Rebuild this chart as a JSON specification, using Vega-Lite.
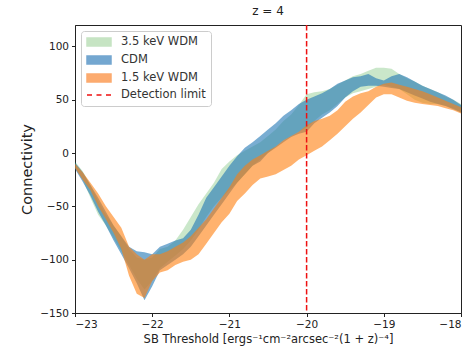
{
  "$schema": "https://vega.github.io/schema/vega-lite/v6.json",
  "width": 386,
  "height": 288,
  "autosize": "none",
  "padding": {"left": 75, "top": 25, "right": 12, "bottom": 36},
  "background": "white",
  "config": {
    "font": "DejaVu Sans",
    "view": {"stroke": "#222222", "strokeWidth": 1},
    "axis": {"grid": false, "domainColor": "#222222", "tickColor": "#222222", "labelColor": "#222222", "titleColor": "#222222", "labelFontSize": 10.5, "tickSize": 3.5, "labelPadding": 3, "titleFontWeight": "normal"}
  },
  "title": {"text": "z = 4", "fontSize": 12, "fontWeight": "normal", "color": "#222222", "offset": 6},
  "datasets": {
    "bands": [
      {"s": "3.5 keV WDM", "x": -23.0, "lo": -14, "hi": -8},
      {"s": "3.5 keV WDM", "x": -22.9, "lo": -25, "hi": -17},
      {"s": "3.5 keV WDM", "x": -22.8, "lo": -42, "hi": -30},
      {"s": "3.5 keV WDM", "x": -22.7, "lo": -58, "hi": -45},
      {"s": "3.5 keV WDM", "x": -22.6, "lo": -68, "hi": -58},
      {"s": "3.5 keV WDM", "x": -22.5, "lo": -80, "hi": -68},
      {"s": "3.5 keV WDM", "x": -22.4, "lo": -92, "hi": -78},
      {"s": "3.5 keV WDM", "x": -22.3, "lo": -105, "hi": -90},
      {"s": "3.5 keV WDM", "x": -22.2, "lo": -118, "hi": -98},
      {"s": "3.5 keV WDM", "x": -22.1, "lo": -128, "hi": -100},
      {"s": "3.5 keV WDM", "x": -22.0, "lo": -120, "hi": -98},
      {"s": "3.5 keV WDM", "x": -21.9, "lo": -108, "hi": -90},
      {"s": "3.5 keV WDM", "x": -21.8, "lo": -102, "hi": -88},
      {"s": "3.5 keV WDM", "x": -21.7, "lo": -96, "hi": -82},
      {"s": "3.5 keV WDM", "x": -21.6, "lo": -90, "hi": -72},
      {"s": "3.5 keV WDM", "x": -21.5, "lo": -82, "hi": -60},
      {"s": "3.5 keV WDM", "x": -21.4, "lo": -72, "hi": -48},
      {"s": "3.5 keV WDM", "x": -21.3, "lo": -60, "hi": -38},
      {"s": "3.5 keV WDM", "x": -21.2, "lo": -50, "hi": -28},
      {"s": "3.5 keV WDM", "x": -21.1, "lo": -42, "hi": -15},
      {"s": "3.5 keV WDM", "x": -21.0, "lo": -35, "hi": -8},
      {"s": "3.5 keV WDM", "x": -20.9, "lo": -28, "hi": -2},
      {"s": "3.5 keV WDM", "x": -20.8, "lo": -20, "hi": 2},
      {"s": "3.5 keV WDM", "x": -20.7, "lo": -12, "hi": 6},
      {"s": "3.5 keV WDM", "x": -20.6, "lo": -6, "hi": 10},
      {"s": "3.5 keV WDM", "x": -20.5, "lo": 0, "hi": 16},
      {"s": "3.5 keV WDM", "x": -20.4, "lo": 6, "hi": 22},
      {"s": "3.5 keV WDM", "x": -20.3, "lo": 12, "hi": 30},
      {"s": "3.5 keV WDM", "x": -20.2, "lo": 16, "hi": 36},
      {"s": "3.5 keV WDM", "x": -20.1, "lo": 20, "hi": 45},
      {"s": "3.5 keV WDM", "x": -20.0, "lo": 24, "hi": 55},
      {"s": "3.5 keV WDM", "x": -19.9, "lo": 30, "hi": 57},
      {"s": "3.5 keV WDM", "x": -19.8, "lo": 36, "hi": 58},
      {"s": "3.5 keV WDM", "x": -19.7, "lo": 40, "hi": 60},
      {"s": "3.5 keV WDM", "x": -19.6, "lo": 46, "hi": 64},
      {"s": "3.5 keV WDM", "x": -19.5, "lo": 52, "hi": 68},
      {"s": "3.5 keV WDM", "x": -19.4, "lo": 56, "hi": 72},
      {"s": "3.5 keV WDM", "x": -19.3, "lo": 58, "hi": 74},
      {"s": "3.5 keV WDM", "x": -19.2, "lo": 60, "hi": 77},
      {"s": "3.5 keV WDM", "x": -19.1, "lo": 62, "hi": 80},
      {"s": "3.5 keV WDM", "x": -19.0, "lo": 64, "hi": 80},
      {"s": "3.5 keV WDM", "x": -18.9, "lo": 62, "hi": 79},
      {"s": "3.5 keV WDM", "x": -18.8, "lo": 60, "hi": 74},
      {"s": "3.5 keV WDM", "x": -18.7, "lo": 55, "hi": 70},
      {"s": "3.5 keV WDM", "x": -18.6, "lo": 50, "hi": 67},
      {"s": "3.5 keV WDM", "x": -18.5, "lo": 47, "hi": 63},
      {"s": "3.5 keV WDM", "x": -18.4, "lo": 46, "hi": 60},
      {"s": "3.5 keV WDM", "x": -18.3, "lo": 46, "hi": 57},
      {"s": "3.5 keV WDM", "x": -18.2, "lo": 44, "hi": 53},
      {"s": "3.5 keV WDM", "x": -18.1, "lo": 42, "hi": 50},
      {"s": "3.5 keV WDM", "x": -18.0, "lo": 38, "hi": 46},
      {"s": "CDM", "x": -23.0, "lo": -15, "hi": -9},
      {"s": "CDM", "x": -22.9, "lo": -27, "hi": -18},
      {"s": "CDM", "x": -22.8, "lo": -40, "hi": -30},
      {"s": "CDM", "x": -22.7, "lo": -55, "hi": -42},
      {"s": "CDM", "x": -22.6, "lo": -68, "hi": -55},
      {"s": "CDM", "x": -22.5, "lo": -82, "hi": -68},
      {"s": "CDM", "x": -22.4, "lo": -95, "hi": -78},
      {"s": "CDM", "x": -22.3, "lo": -108, "hi": -88},
      {"s": "CDM", "x": -22.2, "lo": -122, "hi": -92},
      {"s": "CDM", "x": -22.1, "lo": -138, "hi": -93},
      {"s": "CDM", "x": -22.0, "lo": -125, "hi": -95},
      {"s": "CDM", "x": -21.9, "lo": -110, "hi": -88},
      {"s": "CDM", "x": -21.8, "lo": -105, "hi": -85},
      {"s": "CDM", "x": -21.7, "lo": -100, "hi": -82},
      {"s": "CDM", "x": -21.6, "lo": -95, "hi": -80},
      {"s": "CDM", "x": -21.5, "lo": -88, "hi": -72},
      {"s": "CDM", "x": -21.4, "lo": -78, "hi": -58},
      {"s": "CDM", "x": -21.3, "lo": -68, "hi": -42},
      {"s": "CDM", "x": -21.2, "lo": -58, "hi": -32},
      {"s": "CDM", "x": -21.1, "lo": -48, "hi": -22},
      {"s": "CDM", "x": -21.0, "lo": -38, "hi": -12},
      {"s": "CDM", "x": -20.9, "lo": -28, "hi": -3},
      {"s": "CDM", "x": -20.8, "lo": -20, "hi": 5},
      {"s": "CDM", "x": -20.7, "lo": -12, "hi": 10},
      {"s": "CDM", "x": -20.6, "lo": -8, "hi": 16},
      {"s": "CDM", "x": -20.5, "lo": 0, "hi": 22},
      {"s": "CDM", "x": -20.4, "lo": 5, "hi": 28},
      {"s": "CDM", "x": -20.3, "lo": 10, "hi": 35},
      {"s": "CDM", "x": -20.2, "lo": 15, "hi": 40},
      {"s": "CDM", "x": -20.1, "lo": 18, "hi": 46},
      {"s": "CDM", "x": -20.0, "lo": 20, "hi": 50},
      {"s": "CDM", "x": -19.9, "lo": 28, "hi": 53},
      {"s": "CDM", "x": -19.8, "lo": 33, "hi": 56},
      {"s": "CDM", "x": -19.7, "lo": 38, "hi": 60},
      {"s": "CDM", "x": -19.6, "lo": 44, "hi": 65},
      {"s": "CDM", "x": -19.5, "lo": 52, "hi": 68},
      {"s": "CDM", "x": -19.4, "lo": 58, "hi": 71},
      {"s": "CDM", "x": -19.3, "lo": 62, "hi": 72},
      {"s": "CDM", "x": -19.2, "lo": 63, "hi": 74},
      {"s": "CDM", "x": -19.1, "lo": 63, "hi": 70},
      {"s": "CDM", "x": -19.0, "lo": 62, "hi": 68},
      {"s": "CDM", "x": -18.9, "lo": 61, "hi": 72},
      {"s": "CDM", "x": -18.8, "lo": 60, "hi": 74},
      {"s": "CDM", "x": -18.7, "lo": 57, "hi": 71},
      {"s": "CDM", "x": -18.6, "lo": 54, "hi": 67},
      {"s": "CDM", "x": -18.5, "lo": 51, "hi": 63},
      {"s": "CDM", "x": -18.4, "lo": 48, "hi": 60},
      {"s": "CDM", "x": -18.3, "lo": 46, "hi": 57},
      {"s": "CDM", "x": -18.2, "lo": 44, "hi": 54},
      {"s": "CDM", "x": -18.1, "lo": 41, "hi": 50},
      {"s": "CDM", "x": -18.0, "lo": 38, "hi": 45},
      {"s": "1.5 keV WDM", "x": -23.0, "lo": -14, "hi": -10},
      {"s": "1.5 keV WDM", "x": -22.9, "lo": -25, "hi": -18},
      {"s": "1.5 keV WDM", "x": -22.8, "lo": -35, "hi": -28},
      {"s": "1.5 keV WDM", "x": -22.7, "lo": -50, "hi": -38},
      {"s": "1.5 keV WDM", "x": -22.6, "lo": -62, "hi": -50},
      {"s": "1.5 keV WDM", "x": -22.5, "lo": -75, "hi": -60},
      {"s": "1.5 keV WDM", "x": -22.4, "lo": -90, "hi": -70},
      {"s": "1.5 keV WDM", "x": -22.3, "lo": -115, "hi": -88},
      {"s": "1.5 keV WDM", "x": -22.2, "lo": -132, "hi": -95},
      {"s": "1.5 keV WDM", "x": -22.1, "lo": -136, "hi": -100},
      {"s": "1.5 keV WDM", "x": -22.0, "lo": -120, "hi": -95},
      {"s": "1.5 keV WDM", "x": -21.9, "lo": -112, "hi": -95},
      {"s": "1.5 keV WDM", "x": -21.8, "lo": -110, "hi": -92},
      {"s": "1.5 keV WDM", "x": -21.7, "lo": -105, "hi": -88},
      {"s": "1.5 keV WDM", "x": -21.6, "lo": -102, "hi": -84},
      {"s": "1.5 keV WDM", "x": -21.5, "lo": -100, "hi": -78},
      {"s": "1.5 keV WDM", "x": -21.4, "lo": -95, "hi": -70},
      {"s": "1.5 keV WDM", "x": -21.3, "lo": -85, "hi": -62},
      {"s": "1.5 keV WDM", "x": -21.2, "lo": -75, "hi": -52},
      {"s": "1.5 keV WDM", "x": -21.1, "lo": -65, "hi": -42},
      {"s": "1.5 keV WDM", "x": -21.0, "lo": -57, "hi": -32},
      {"s": "1.5 keV WDM", "x": -20.9, "lo": -45, "hi": -20},
      {"s": "1.5 keV WDM", "x": -20.8, "lo": -38, "hi": -12},
      {"s": "1.5 keV WDM", "x": -20.7, "lo": -30, "hi": -6},
      {"s": "1.5 keV WDM", "x": -20.6, "lo": -24, "hi": -2},
      {"s": "1.5 keV WDM", "x": -20.5, "lo": -22, "hi": 2},
      {"s": "1.5 keV WDM", "x": -20.4, "lo": -20, "hi": 6},
      {"s": "1.5 keV WDM", "x": -20.3, "lo": -16, "hi": 12},
      {"s": "1.5 keV WDM", "x": -20.2, "lo": -12, "hi": 16},
      {"s": "1.5 keV WDM", "x": -20.1, "lo": -6, "hi": 20},
      {"s": "1.5 keV WDM", "x": -20.0, "lo": -2, "hi": 26},
      {"s": "1.5 keV WDM", "x": -19.9, "lo": 2, "hi": 30},
      {"s": "1.5 keV WDM", "x": -19.8, "lo": 6, "hi": 32},
      {"s": "1.5 keV WDM", "x": -19.7, "lo": 12, "hi": 35},
      {"s": "1.5 keV WDM", "x": -19.6, "lo": 18, "hi": 40},
      {"s": "1.5 keV WDM", "x": -19.5, "lo": 25, "hi": 48},
      {"s": "1.5 keV WDM", "x": -19.4, "lo": 32, "hi": 53},
      {"s": "1.5 keV WDM", "x": -19.3, "lo": 38, "hi": 56},
      {"s": "1.5 keV WDM", "x": -19.2, "lo": 45, "hi": 58},
      {"s": "1.5 keV WDM", "x": -19.1, "lo": 52, "hi": 62},
      {"s": "1.5 keV WDM", "x": -19.0, "lo": 55, "hi": 65},
      {"s": "1.5 keV WDM", "x": -18.9, "lo": 55, "hi": 66},
      {"s": "1.5 keV WDM", "x": -18.8, "lo": 52, "hi": 64},
      {"s": "1.5 keV WDM", "x": -18.7, "lo": 49, "hi": 62},
      {"s": "1.5 keV WDM", "x": -18.6, "lo": 47, "hi": 60},
      {"s": "1.5 keV WDM", "x": -18.5, "lo": 46, "hi": 58},
      {"s": "1.5 keV WDM", "x": -18.4, "lo": 45, "hi": 55},
      {"s": "1.5 keV WDM", "x": -18.3, "lo": 44, "hi": 52},
      {"s": "1.5 keV WDM", "x": -18.2, "lo": 42, "hi": 49},
      {"s": "1.5 keV WDM", "x": -18.1, "lo": 40, "hi": 46},
      {"s": "1.5 keV WDM", "x": -18.0, "lo": 37, "hi": 43}
    ],
    "limit": [
      {"s": "Detection limit", "x": -20}
    ]
  },
  "encoding": {
    "x": {"field": "x", "type": "quantitative", "scale": {"domain": [-23, -18], "nice": false, "zero": false},
      "axis": {"values": [-23, -22, -21, -20, -19, -18], "title": "SB Threshold [ergs⁻¹cm⁻²arcsec⁻²(1 + z)⁻⁴]", "titleFontSize": 11.5, "titlePadding": 3}}
  },
  "layer": [
    {
      "data": {"name": "bands"},
      "transform": [{"filter": "false"}],
      "mark": {"type": "area", "opacity": 1},
      "encoding": {
        "y": {"field": "lo", "type": "quantitative", "scale": {"domain": [-150, 120], "nice": false, "zero": false},
          "axis": {"values": [-150, -100, -50, 0, 50, 100], "title": "Connectivity", "titleFontSize": 14.5, "titlePadding": 5}},
        "y2": {"field": "hi"},
        "color": {"field": "s", "type": "nominal",
          "scale": {"domain": ["3.5 keV WDM", "CDM", "1.5 keV WDM", "Detection limit"], "range": ["#c6e4c3", "#74a7d0", "#fcab6f", "#ee1111"]},
          "legend": {"title": null, "orient": "top-left", "offset": 6, "padding": 5, "fillColor": "white", "strokeColor": "#cccccc", "cornerRadius": 3,
            "labelFontSize": 11.5, "labelColor": "#333333", "symbolSize": 100, "symbolOffset": 7, "labelOffset": 16, "rowPadding": 4,
            "symbolOpacity": 1, "symbolType": "M-2.4,-0.8H2.4V0.8H-2.4Z",
            "encode": {"symbols": {"update": {
              "shape": {"signal": "datum.label === 'Detection limit' ? 'M-2.4,0H-1.4M-0.5,0H0.5M1.4,0H2.4' : 'M-2.4,-0.8H2.4V0.8H-2.4Z'"},
              "stroke": {"signal": "datum.label === 'Detection limit' ? '#ee1111' : 'transparent'"},
              "strokeWidth": {"value": 1.5},
              "opacity": {"value": 1}
            }}}}
        }
      }
    },
    {
      "data": {"name": "bands"},
      "transform": [{"filter": "datum.s === '3.5 keV WDM'"}],
      "mark": {"type": "area", "color": "#2ca02c", "opacity": 0.25},
      "encoding": {
        "y": {"field": "lo", "type": "quantitative"},
        "y2": {"field": "hi"}
      }
    },
    {
      "data": {"name": "bands"},
      "transform": [{"filter": "datum.s === 'CDM'"}],
      "mark": {"type": "area", "color": "#1f77b4", "opacity": 0.6},
      "encoding": {
        "y": {"field": "lo", "type": "quantitative"},
        "y2": {"field": "hi"}
      }
    },
    {
      "data": {"name": "bands"},
      "transform": [{"filter": "datum.s === '1.5 keV WDM'"}],
      "mark": {"type": "area", "color": "#ff7f0e", "opacity": 0.6},
      "encoding": {
        "y": {"field": "lo", "type": "quantitative"},
        "y2": {"field": "hi"}
      }
    },
    {
      "data": {"name": "limit"},
      "mark": {"type": "rule", "strokeDash": [5.5, 2.5], "strokeWidth": 1.5},
      "encoding": {
        "color": {"field": "s", "type": "nominal"}
      }
    }
  ]
}
